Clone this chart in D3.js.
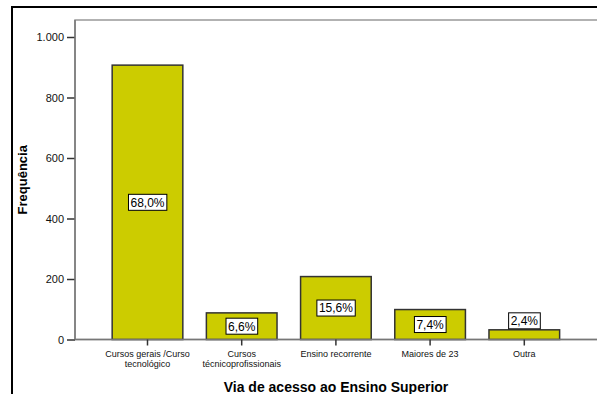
<!DOCTYPE html>
<html>
<head>
<meta charset="utf-8">
<script src="https://cdn.jsdelivr.net/npm/d3@7"></script>
<style>
  body { margin: 0; background: #fff; }
  svg { display: block; font-family: "Liberation Sans", Arial, sans-serif; }
</style>
</head>
<body>
<div id="chart"></div>
<script>
// data
const categories = ['Cursos gerais /Curso tecnológico', 'Cursos técnicoprofissionais', 'Ensino recorrente', 'Maiores de 23', 'Outra'];
const categoryLines = [['Cursos gerais /Curso', 'tecnológico'], ['Cursos', 'técnicoprofissionais'], ['Ensino recorrente'], ['Maiores de 23'], ['Outra']];
const counts = [907, 88, 208, 99, 32];
const percentLabels = ['68,0%', '6,6%', '15,6%', '7,4%', '2,4%'];
const yTicks = [0, 200, 400, 600, 800, 1000];

const width = 597, height = 394;
const plot = { left: 75, top: 20, right: 602, bottom: 339.5 };

const svg = d3.select('#chart').append('svg')
    .attr('width', width)
    .attr('height', height);

// outer frame
svg.append('rect')
    .attr('x', 12).attr('y', 7)
    .attr('width', 700).attr('height', 500)
    .attr('fill', 'none')
    .attr('stroke', '#000')
    .attr('stroke-width', 2);

// plot frame
svg.append('rect')
    .attr('x', plot.left).attr('y', plot.top)
    .attr('width', plot.right - plot.left).attr('height', plot.bottom - plot.top)
    .attr('fill', '#fff')
    .attr('stroke', '#999')
    .attr('stroke-width', 1.5);

const x = d3.scaleBand()
    .domain(categories)
    .range([100.4, 571.4])
    .paddingInner(0.25)
    .paddingOuter(0.125);

const y = d3.scaleLinear()
    .domain([0, 1000])
    .range([plot.bottom, 37]);

// y axis
const yAxis = d3.axisLeft(y)
    .tickValues(yTicks)
    .tickSize(8)
    .tickPadding(3)
    .tickFormat(d => d3.format(',')(d).replace(',', '.'));

const gy = svg.append('g')
    .attr('transform', `translate(${plot.left},0)`)
    .call(yAxis);
gy.select('.domain').remove();
gy.selectAll('.tick line').attr('stroke', '#333').attr('stroke-width', 1.5);
gy.selectAll('.tick text')
    .attr('fill', '#111')
    .style('font-size', '11px');

svg.append('line')
    .attr('x1', plot.left).attr('x2', plot.left)
    .attr('y1', plot.top).attr('y2', plot.bottom)
    .attr('stroke', '#777').attr('stroke-width', 1.5);

// bars
const bars = svg.append('g').attr('class', 'bars');
bars.selectAll('rect')
    .data(categories)
    .enter().append('rect')
    .attr('x', d => x(d))
    .attr('y', (d, i) => y(counts[i]))
    .attr('width', x.bandwidth())
    .attr('height', (d, i) => y(0) - y(counts[i]))
    .attr('fill', '#cccc00')
    .attr('stroke', '#333')
    .attr('stroke-width', 1.5);

// baseline
svg.append('line')
    .attr('x1', plot.left).attr('x2', plot.right)
    .attr('y1', plot.bottom).attr('y2', plot.bottom)
    .attr('stroke', '#777').attr('stroke-width', 1.5);

// x ticks and labels
const xt = svg.append('g').selectAll('g')
    .data(categories)
    .enter().append('g')
    .attr('transform', d => `translate(${x(d) + x.bandwidth() / 2},${plot.bottom})`);

xt.append('line')
    .attr('y1', 0).attr('y2', 6)
    .attr('stroke', '#333').attr('stroke-width', 1.5);

xt.append('text')
    .attr('text-anchor', 'middle')
    .style('font-size', '9px')
    .attr('fill', '#111')
    .selectAll('tspan')
    .data((d, i) => categoryLines[i])
    .enter().append('tspan')
    .attr('x', 0)
    .attr('y', (d, j) => 17 + j * 10)
    .text(d => d);

// percentage boxes
const boxH = 16;
const labels = svg.append('g').selectAll('g')
    .data(categories)
    .enter().append('g')
    .attr('transform', (d, i) => {
        const top = y(counts[i]);
        const barH = y(0) - top;
        const cy = barH > boxH + 4 ? top + barH / 2 : top - boxH / 2 - 1;
        return `translate(${x(d) + x.bandwidth() / 2},${cy})`;
    });

labels.append('text')
    .attr('text-anchor', 'middle')
    .attr('dy', '0.36em')
    .style('font-size', '12px')
    .attr('fill', '#000')
    .text((d, i) => percentLabels[i]);

labels.each(function () {
    const g = d3.select(this);
    const bb = g.select('text').node().getBBox();
    g.insert('rect', 'text')
        .attr('x', bb.x - 2)
        .attr('y', -boxH / 2)
        .attr('width', bb.width + 4)
        .attr('height', boxH)
        .attr('fill', '#fff')
        .attr('stroke', '#000')
        .attr('stroke-width', 1);
});

// axis titles
svg.append('text')
    .attr('transform', `translate(27,${(plot.top + plot.bottom) / 2}) rotate(-90)`)
    .attr('text-anchor', 'middle')
    .style('font-size', '13px')
    .style('font-weight', 'bold')
    .attr('fill', '#000')
    .text('Frequência');

svg.append('text')
    .attr('x', 336)
    .attr('y', 392)
    .attr('text-anchor', 'middle')
    .style('font-size', '14px')
    .style('font-weight', 'bold')
    .attr('fill', '#000')
    .text('Via de acesso ao Ensino Superior');
</script>
</body>
</html>
